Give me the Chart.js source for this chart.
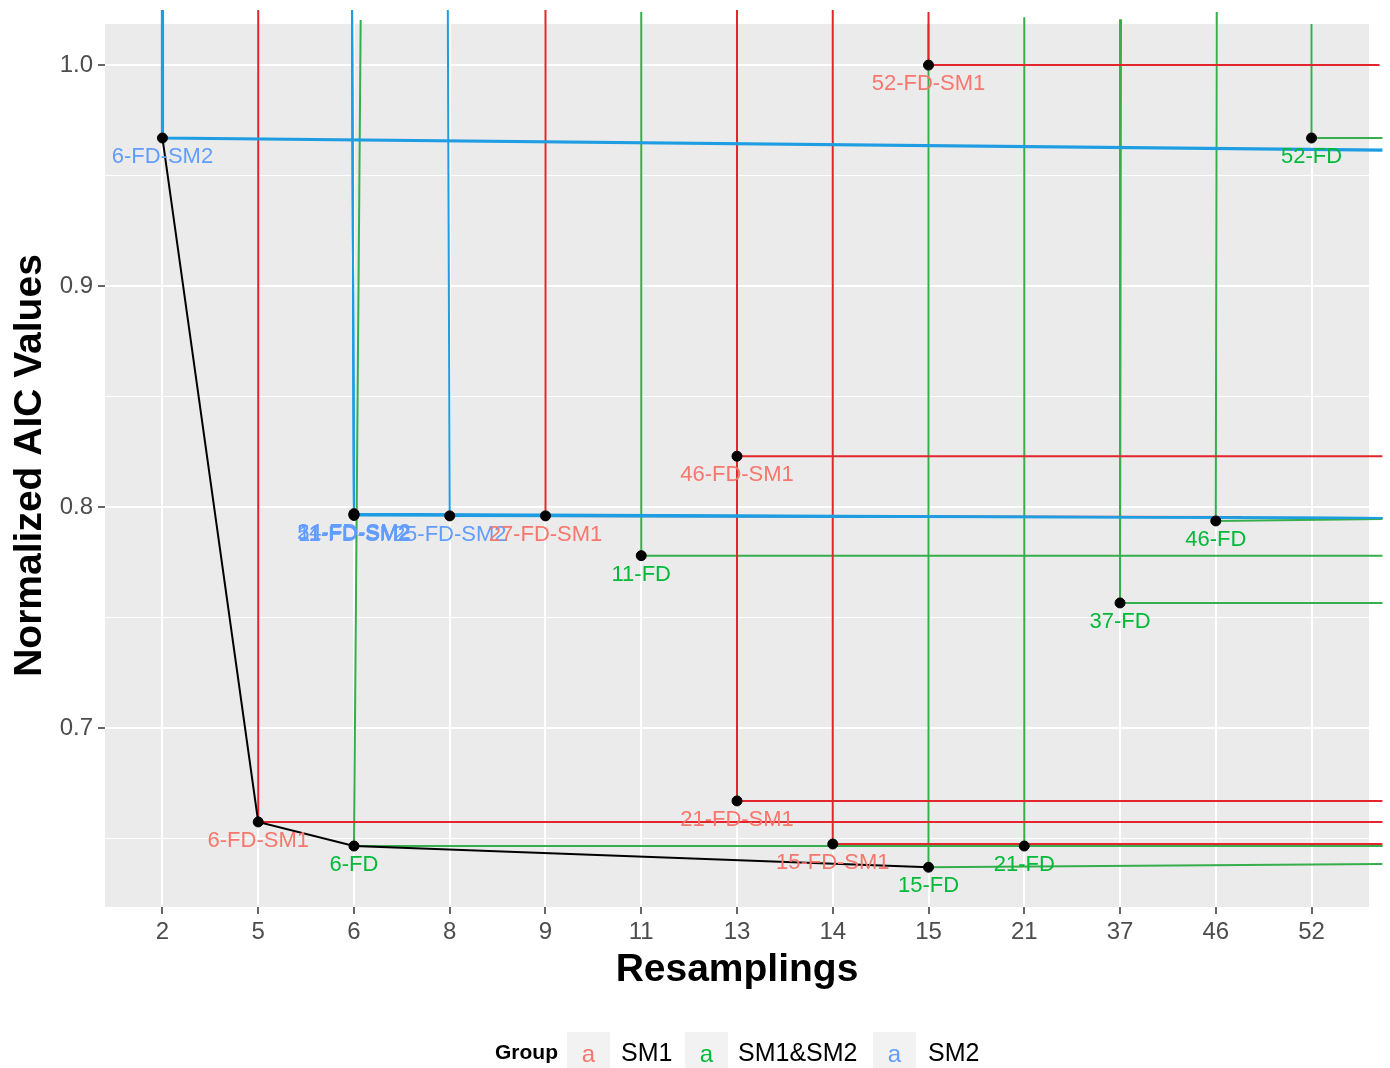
<!DOCTYPE html>
<html lang="en">
  <head>
    <meta charset="UTF-8" />
    <title>Normalized AIC vs Resamplings</title>
    <style>
      body {
        margin: 0;
        background: #fff;
      }
      #wrap {
        position: relative;
        width: 1390px;
        height: 1068px;
        overflow: hidden;
        font-family: 'Liberation Sans', Arial, sans-serif;
      }
      .legend-title {
        position: absolute;
        top: 1040px;
        left: 495px;
        font-size: 21px;
        font-weight: bold;
        color: #000;
      }
      .legend-key {
        position: absolute;
        top: 1032px;
        width: 43px;
        height: 43px;
        background: #f2f2f2;
        font-size: 24px;
        line-height: 43px;
        text-align: center;
      }
      .legend-label {
        position: absolute;
        top: 1038px;
        font-size: 25px;
        color: #000;
      }
    </style>
  </head>
  <body>
    <div id="wrap">
      <canvas id="aicChart" width="1390" height="1068"></canvas>
      <span class="legend-title">Group</span>
      <span class="legend-key" style="left: 567px; color: #f8766d">a</span>
      <span class="legend-label" style="left: 621px">SM1</span>
      <span class="legend-key" style="left: 685px; color: #00ba38">a</span>
      <span class="legend-label" style="left: 738px">SM1&amp;SM2</span>
      <span class="legend-key" style="left: 873px; color: #619cff">a</span>
      <span class="legend-label" style="left: 928px">SM2</span>
    </div>

    <script src="https://cdn.jsdelivr.net/npm/chart.js"></script>
    <script>
      // x axis is discrete: values below are positions in this list
      const categories = ['2', '5', '6', '8', '9', '11', '13', '14', '15', '21', '37', '46', '52'];

      const pointLabels = [
        '6-FD-SM2', '11-FD-SM2', '51-FD-SM2', '24-FD-SM2', '25-FD-SM2',
        '6-FD-SM1', '27-FD-SM1', '46-FD-SM1', '21-FD-SM1', '15-FD-SM1', '52-FD-SM1',
        '6-FD', '11-FD', '15-FD', '21-FD', '37-FD', '46-FD', '52-FD',
      ];
      const pointGroups = [
        'SM2', 'SM2', 'SM2', 'SM2', 'SM2',
        'SM1', 'SM1', 'SM1', 'SM1', 'SM1', 'SM1',
        'SM1&SM2', 'SM1&SM2', 'SM1&SM2', 'SM1&SM2', 'SM1&SM2', 'SM1&SM2', 'SM1&SM2',
      ];
      const pointCat = [0, 2, 2, 2, 3, 1, 4, 6, 6, 7, 8, 2, 5, 8, 9, 10, 11, 12];
      const pointAIC = [
        0.967, 0.7962, 0.7966, 0.797, 0.796,
        0.6575, 0.796, 0.823, 0.667, 0.6475, 1.0,
        0.6466, 0.778, 0.637, 0.6466, 0.7566, 0.7937, 0.967,
      ];

      // where each guide line ends (top of vertical, right end of horizontal)
      const vTopX = [0, 1.98, 1.98, 1.98, 2.98, 1, 4, 6, 6, 7, 8, 2.07, 5, 8, 9, 10.01, 11.01, 12];
      const vTopY = [
        1.0249, 1.0249, 1.0249, 1.0249, 1.0249,
        1.0249, 1.0249, 1.0249, 1.0249, 1.0249, 1.024,
        1.0204, 1.024, 1.0186, 1.0217, 1.0208, 1.024, 1.0186,
      ];
      const hEndX = [
        12.74, 12.74, 12.74, 12.74, 12.74,
        12.74, 11.27, 12.74, 12.74, 12.74, 12.71,
        12.74, 12.74, 12.74, 12.74, 12.74, 12.74, 12.74,
      ];
      const hEndY = [
        0.9615, 0.795, 0.795, 0.795, 0.795,
        0.6575, 0.7955, 0.823, 0.667, 0.6475, 1.0,
        0.6466, 0.778, 0.6385, 0.6466, 0.7566, 0.7946, 0.967,
      ];

      // lower front joining the best models
      const frontCat = [0, 1, 2, 8];
      const frontAIC = [0.967, 0.6575, 0.6466, 0.637];

      const yTicks = [0.7, 0.8, 0.9, 1.0];

      const lineColors = { SM1: '#e3262d', 'SM1&SM2': '#35ae4b', SM2: '#1e9de3' };
      const labelColors = { SM1: '#f8766d', 'SM1&SM2': '#00ba38', SM2: '#619cff' };

      const isMajor = (v) => yTicks.some((t) => Math.abs(t - v) < 1e-6);

      const guideSets = pointLabels.map((name, i) => ({
        type: 'line',
        label: name,
        data: [
          { x: vTopX[i], y: vTopY[i] },
          { x: pointCat[i], y: pointAIC[i] },
          { x: hEndX[i], y: hEndY[i] },
        ],
        borderColor: lineColors[pointGroups[i]],
        borderWidth: i === 0 ? 3.2 : 2,
        pointRadius: 0,
        tension: 0,
        clip: false,
        order: 2,
      }));

      const panelBg = {
        id: 'panelBg',
        beforeDraw(chart) {
          const { ctx, chartArea: a } = chart;
          ctx.save();
          ctx.fillStyle = '#ebebeb';
          ctx.fillRect(a.left, a.top, a.right - a.left, a.bottom - a.top);
          ctx.restore();
        },
      };

      const pointText = {
        id: 'pointText',
        afterDatasetsDraw(chart) {
          const { ctx } = chart;
          const xs = chart.scales.x;
          const ys = chart.scales.y;
          ctx.save();
          ctx.font = "22px 'Liberation Sans', Arial, sans-serif";
          ctx.textAlign = 'center';
          ctx.textBaseline = 'middle';
          pointLabels.forEach((name, i) => {
            ctx.fillStyle = labelColors[pointGroups[i]];
            ctx.fillText(name, xs.getPixelForValue(pointCat[i]), ys.getPixelForValue(pointAIC[i]) + 19);
          });
          ctx.restore();
        },
      };

      const titleFont = { family: "'Liberation Sans', Arial, sans-serif", weight: 'bold', size: 39 };
      const tickFont = { family: "'Liberation Sans', Arial, sans-serif", size: 24 };

      const ctx = document.getElementById('aicChart').getContext('2d');
      new Chart(ctx, {
        type: 'scatter',
        data: {
          datasets: [
            {
              type: 'scatter',
              label: 'models',
              data: pointCat.map((c, i) => ({ x: c, y: pointAIC[i] })),
              backgroundColor: '#000',
              borderColor: '#000',
              pointRadius: 5,
              clip: false,
              order: 0,
            },
            {
              type: 'line',
              label: 'front',
              data: frontCat.map((c, i) => ({ x: c, y: frontAIC[i] })),
              borderColor: '#000',
              borderWidth: 2,
              pointRadius: 0,
              tension: 0,
              clip: false,
              order: 1,
            },
            ...guideSets,
          ],
        },
        options: {
          responsive: false,
          animation: false,
          layout: { padding: { top: 24, right: 21, bottom: 68, left: 0 } },
          plugins: {
            legend: { display: false },
            tooltip: { enabled: false },
          },
          scales: {
            x: {
              type: 'linear',
              min: -0.6,
              max: 12.6,
              afterFit: (s) => {
                s.height = 93;
              },
              border: { display: false },
              grid: {
                color: '#ffffff',
                lineWidth: 2,
                tickColor: '#333333',
                tickWidth: 1.5,
                tickLength: 7,
              },
              ticks: {
                stepSize: 1,
                maxTicksLimit: 30,
                includeBounds: false,
                autoSkip: false,
                maxRotation: 0,
                padding: 4,
                color: '#4d4d4d',
                font: tickFont,
                callback: (v) => (Number.isInteger(v) ? categories[v] : ''),
              },
              title: {
                display: true,
                text: 'Resamplings',
                color: '#000',
                font: titleFont,
                padding: { top: 0, bottom: 6 },
              },
            },
            y: {
              min: 0.619,
              max: 1.0186,
              afterFit: (s) => {
                s.width = 105;
              },
              border: { display: false },
              grid: {
                color: '#ffffff',
                lineWidth: (c) => (c.tick && isMajor(c.tick.value) ? 2 : 1),
                tickColor: (c) => (c.tick && isMajor(c.tick.value) ? '#333333' : 'rgba(0,0,0,0)'),
                tickWidth: 1.5,
                tickLength: 7,
              },
              ticks: {
                stepSize: 0.05,
                includeBounds: false,
                padding: 5,
                color: '#4d4d4d',
                font: tickFont,
                callback: (v) => (isMajor(v) ? v.toFixed(1) : ''),
              },
              title: {
                display: true,
                text: 'Normalized AIC Values',
                color: '#000',
                font: titleFont,
                padding: { top: 7, bottom: 0 },
              },
            },
          },
        },
        plugins: [panelBg, pointText],
      });
    </script>
  </body>
</html>
